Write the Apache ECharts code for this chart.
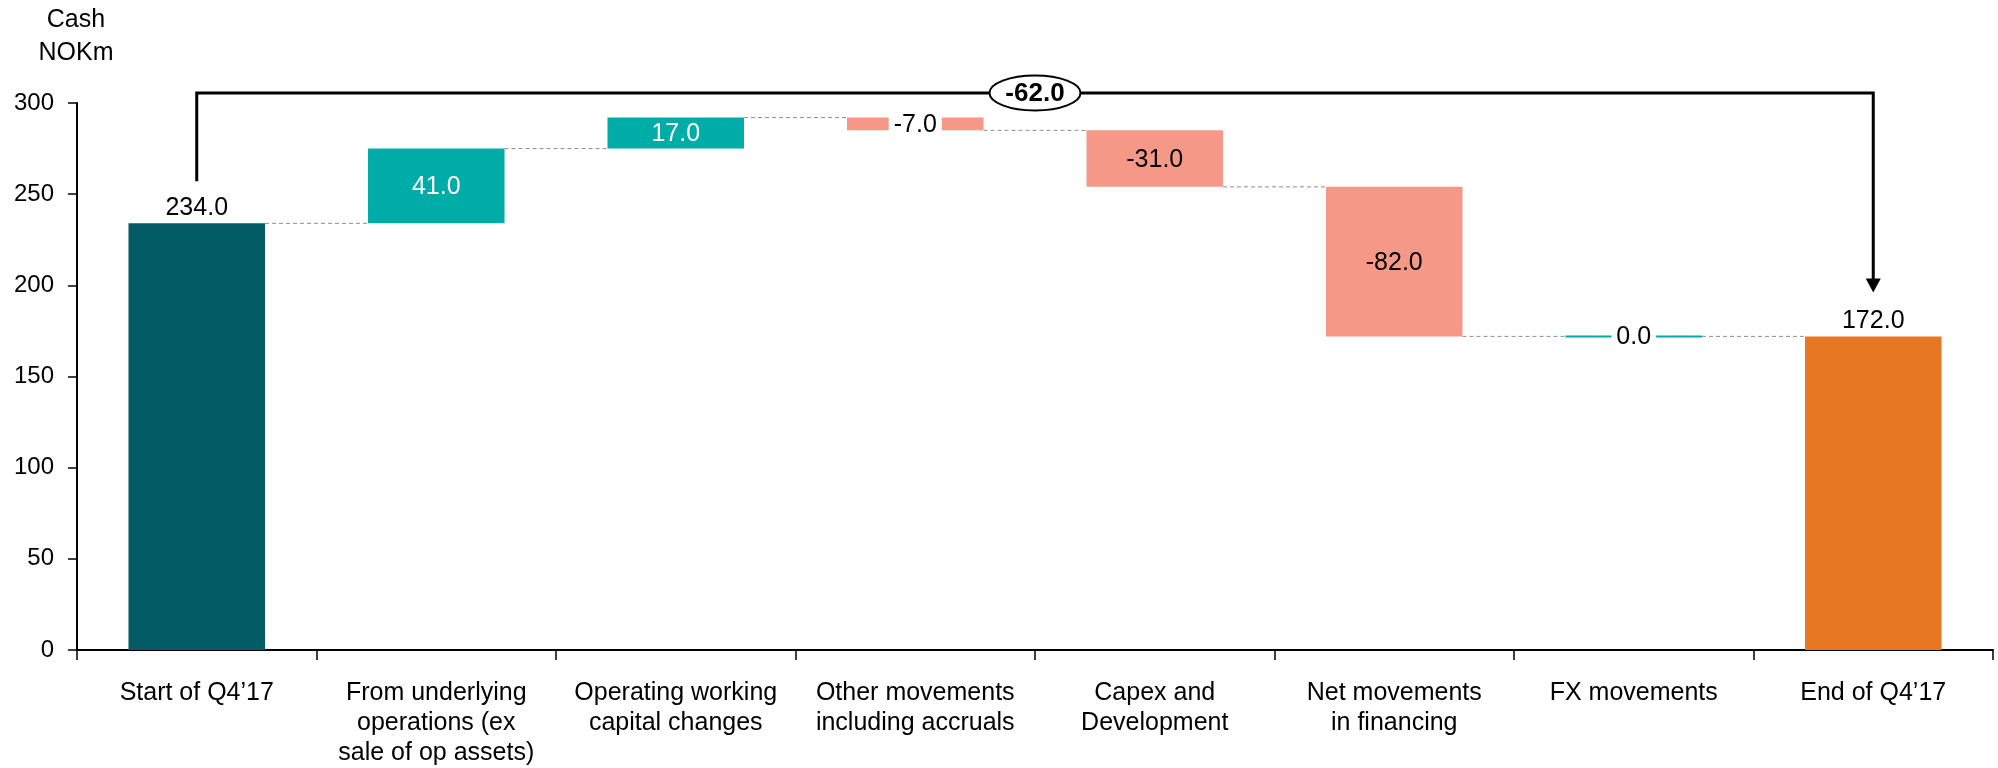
<!DOCTYPE html>
<html lang="en">
<head>
<meta charset="UTF-8">
<title>Cash bridge Q4'17</title>
<script src="https://cdn.jsdelivr.net/npm/echarts@6/dist/echarts.min.js"></script>
<style>
  html, body { margin: 0; padding: 0; background: #fff; }
  #main { width: 1998px; height: 768px; }
</style>
</head>
<body>
<div id="main"></div>
<script>
// data
var categories = [
  'Start of Q4\u201917',
  'From underlying\noperations (ex\nsale of op assets)',
  'Operating working\ncapital changes',
  'Other movements\nincluding accruals',
  'Capex and\nDevelopment',
  'Net movements\nin financing',
  'FX movements',
  'End of Q4\u201917'
];
var changes = [234, 41, 17, -7, -31, -82, 0, 172];
var isTotal = [true, false, false, false, false, false, false, true];
var yMin = 0, yMax = 300, yStep = 50;

var FONT = '"Liberation Sans", Arial, Helvetica, sans-serif';
var C_START = '#025B65', C_END = '#E87722', C_UP = '#00ACA7', C_DOWN = '#F59887';

// build floating bars + connector levels
var bars = [], links = [];
var level = 0;
for (var i = 0; i < changes.length; i++) {
  var low, high;
  if (isTotal[i]) {
    low = 0; high = changes[i]; level = changes[i];
  } else {
    var start = level;
    level = level + changes[i];
    low = Math.min(start, level); high = Math.max(start, level);
  }
  bars.push([i, low, high, changes[i]]);
  if (i < changes.length - 1) links.push([i, level]);
}
var first = 0, last = changes.length - 1;
var bridgeValue = changes[last] - changes[first];

function barWidth(api) { return api.size([1, 0])[0] * 0.57; }

function renderBar(params, api) {
  var i = api.value(0), low = api.value(1), high = api.value(2), v = api.value(3);
  var w = barWidth(api);
  var pTop = api.coord([i, high]);
  var pBot = api.coord([i, low]);
  var y = pTop[1], h = pBot[1] - pTop[1];
  if (h < 2) { y = pTop[1] - 1; h = 2; }
  var color;
  if (isTotal[i]) color = i === 0 ? C_START : C_END;
  else color = v < 0 ? C_DOWN : C_UP;
  var kids = [{
    type: 'rect',
    shape: { x: pTop[0] - w / 2, y: y, width: w, height: h },
    style: { fill: color }
  }];
  var txt = v.toFixed(1);
  var ts = { text: txt, font: '25px ' + FONT, align: 'center' };
  if (isTotal[i]) {
    ts.x = pTop[0]; ts.y = pTop[1] - 3; ts.verticalAlign = 'bottom'; ts.fill = '#000';
  } else if (h < 30) {
    ts.x = pTop[0]; ts.y = y + h / 2 + 1; ts.verticalAlign = 'middle'; ts.fill = '#000';
    ts.backgroundColor = '#fff'; ts.padding = [2, 5];
  } else {
    ts.x = pTop[0]; ts.y = y + h / 2 + 1; ts.verticalAlign = 'middle';
    ts.fill = v < 0 ? '#000' : '#fff';
  }
  kids.push({ type: 'text', style: ts, z2: 10 });
  return { type: 'group', children: kids };
}

function renderLink(params, api) {
  var i = api.value(0), lvl = api.value(1);
  var w = barWidth(api);
  var a = api.coord([i, lvl]), b = api.coord([i + 1, lvl]);
  return {
    type: 'line',
    shape: { x1: a[0] + w / 2, y1: a[1], x2: b[0] - w / 2, y2: a[1] },
    style: { stroke: '#8f8f8f', lineWidth: 1, lineDash: [4, 3] }
  };
}

function renderBridge(params, api) {
  var i0 = api.value(0), i1 = api.value(1);
  var p0 = api.coord([i0, changes[i0]]);
  var p1 = api.coord([i1, changes[i1]]);
  var topY = api.coord([i0, 305.5])[1];
  var tipY = p1[1] - 44;
  var mid = (p0[0] + p1[0]) / 2;
  return {
    type: 'group',
    children: [
      {
        type: 'polyline',
        shape: { points: [[p0[0], p0[1] - 42], [p0[0], topY], [p1[0], topY], [p1[0], tipY - 12]] },
        style: { stroke: '#000', lineWidth: 3, fill: null }
      },
      {
        type: 'polygon',
        shape: { points: [[p1[0] - 7.5, tipY - 14], [p1[0] + 7.5, tipY - 14], [p1[0], tipY]] },
        style: { fill: '#000' }
      },
      {
        type: 'ellipse',
        shape: { cx: mid, cy: topY, rx: 45.5, ry: 17.5 },
        style: { fill: '#fff', stroke: '#000', lineWidth: 2 }
      },
      {
        type: 'text',
        style: {
          text: bridgeValue.toFixed(1), x: mid, y: topY + 1,
          align: 'center', verticalAlign: 'middle',
          font: 'bold 26px ' + FONT, fill: '#000'
        }
      }
    ]
  };
}

var chart = echarts.init(document.getElementById('main'));
chart.setOption({
  animation: false,
  backgroundColor: '#fff',
  grid: { left: 77, right: 5, top: 103, bottom: 118 },
  graphic: [{
    type: 'text',
    x: 76, y: 4,
    style: {
      text: 'Cash\nNOKm', align: 'center', lineHeight: 33,
      font: '25px ' + FONT, fill: '#000'
    }
  }],
  xAxis: {
    type: 'category',
    data: categories,
    axisLine: { lineStyle: { color: '#000', width: 2 } },
    axisTick: { show: true, length: 10, lineStyle: { color: '#000', width: 1.5 } },
    axisLabel: {
      interval: 0, margin: 28, color: '#000', fontSize: 25,
      lineHeight: 30, fontFamily: FONT, align: 'center'
    },
    splitLine: { show: false }
  },
  yAxis: {
    type: 'value',
    min: yMin, max: yMax, interval: yStep,
    axisLine: { show: true, lineStyle: { color: '#000', width: 2 } },
    axisTick: { show: true, length: 9, lineStyle: { color: '#000', width: 1.5 } },
    axisLabel: { margin: 23, color: '#000', fontSize: 24, fontFamily: FONT },
    splitLine: { show: false }
  },
  series: [
    {
      type: 'custom', name: 'links', data: links, z: 1,
      encode: { x: 0, y: 1 }, renderItem: renderLink, silent: true
    },
    {
      type: 'custom', name: 'bars', data: bars, z: 2,
      encode: { x: 0, y: [1, 2] }, renderItem: renderBar
    },
    {
      type: 'custom', name: 'bridge', data: [[first, last]], z: 3,
      encode: { x: 0 }, renderItem: renderBridge, silent: true, clip: false
    }
  ]
});
</script>
</body>
</html>
